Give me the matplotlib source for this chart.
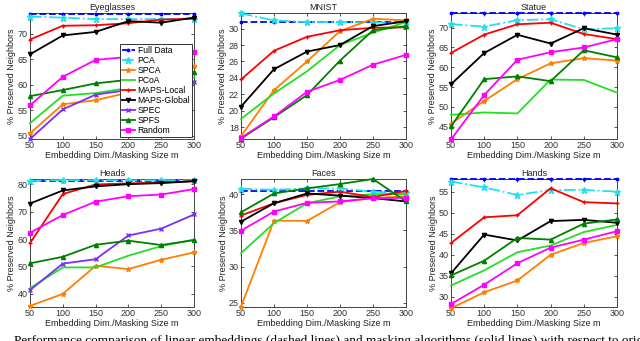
import matplotlib
matplotlib.use("Agg")
import matplotlib.pyplot as plt

x_dims = [50, 100, 150, 200, 250, 300]
methods = ["Full Data", "PCA", "SPCA", "PCoA", "MAPS-Local", "MAPS-Global", "SPEC", "SPFS", "Random"]

eyeglasses = {
    "Full Data":   [74.0, 74.0, 74.0, 74.0, 74.0, 74.0],
    "PCA":         [73.4, 73.2, 72.9, 72.9, 72.9, 73.0],
    "SPCA":        [50.5, 56.2, 57.0, 58.5, 61.0, 63.7],
    "PCoA":        [52.5, 57.9, 58.4, 59.4, 60.5, 61.5],
    "MAPS-Local":  [68.9, 71.6, 71.7, 72.1, 72.8, 73.0],
    "MAPS-Global": [66.0, 69.7, 70.4, 72.5, 72.2, 73.2],
    "SPEC":        [49.4, 55.2, 58.1, 59.0, 59.8, 60.5],
    "SPFS":        [57.8, 59.0, 60.3, 61.0, 61.8, 62.5],
    "Random":      [56.0, 61.6, 64.9, 65.5, 66.3, 66.5],
}
mnist = {
    "Full Data":   [30.75, 30.75, 30.75, 30.75, 30.75, 30.75],
    "PCA":         [31.85, 31.0, 30.8, 30.8, 30.75, 30.75],
    "SPCA":        [16.9, 22.5, 26.0, 29.7, 31.2, 31.0],
    "PCoA":        [19.0, 22.1, 24.8, 28.0, 29.5, 30.8],
    "MAPS-Local":  [23.8, 27.3, 29.0, 29.8, 30.1, 30.15],
    "MAPS-Global": [20.5, 25.05, 27.2, 28.0, 30.3, 30.9],
    "SPFS":        [16.6, 19.2, 21.9, 26.1, 29.8, 30.3],
    "Random":      [16.7, 19.3, 22.3, 23.75, 25.6, 26.8],
}
statue = {
    "Full Data":   [73.6, 73.6, 73.6, 73.6, 73.6, 73.6],
    "PCA":         [70.9, 70.25, 71.9, 72.1, 69.6, 69.85],
    "SPCA":        [45.8, 51.5, 57.0, 61.0, 62.3, 61.7],
    "PCoA":        [48.0, 48.6, 48.35, 56.9, 56.8, 53.6],
    "MAPS-Local":  [63.6, 68.25, 70.85, 71.25, 68.4, 67.1],
    "MAPS-Global": [55.7, 63.6, 68.2, 66.0, 69.85, 68.25],
    "SPFS":        [45.1, 57.0, 57.7, 56.5, 64.3, 62.5],
    "Random":      [41.8, 53.0, 61.9, 63.8, 65.0, 67.1],
}
heads = {
    "Full Data":   [81.3, 81.3, 81.3, 81.3, 81.3, 81.3],
    "PCA":         [81.3, 81.6, 81.5, 81.5, 81.5, 81.5],
    "SPCA":        [35.5, 39.9, 50.2, 49.0, 52.4, 55.1],
    "PCoA":        [42.0, 49.6, 49.6, 53.9, 57.4, 59.8],
    "MAPS-Local":  [58.5, 76.5, 80.0, 80.4, 80.7, 81.2],
    "MAPS-Global": [73.0, 77.8, 79.3, 80.1, 80.5, 81.2],
    "SPEC":        [41.3, 51.0, 52.6, 61.3, 63.8, 69.0],
    "SPFS":        [51.1, 53.5, 57.9, 59.4, 57.8, 59.6],
    "Random":      [62.3, 68.8, 73.7, 75.7, 76.3, 78.3],
}
faces = {
    "Full Data":   [40.4, 40.4, 40.4, 40.4, 40.4, 40.4],
    "PCA":         [40.75, 40.6, 40.8, 40.8, 40.35, 40.1],
    "SPCA":        [24.45, 36.35, 36.3, 38.9, 39.45, 39.7],
    "PCoA":        [31.85, 36.0, 38.75, 39.7, 40.0, 40.0],
    "MAPS-Local":  [37.05, 38.75, 39.9, 40.35, 39.6, 40.45],
    "MAPS-Global": [36.2, 38.75, 40.1, 39.8, 39.45, 39.0],
    "SPFS":        [37.5, 40.1, 40.8, 41.4, 42.1, 39.0],
    "Random":      [34.95, 37.6, 38.8, 39.0, 39.45, 39.5],
}
hands = {
    "Full Data":   [57.9, 57.9, 57.9, 57.9, 57.9, 57.9],
    "PCA":         [57.4, 56.0, 54.2, 55.4, 55.4, 55.0],
    "SPCA":        [27.3, 31.1, 33.9, 40.0, 42.8, 44.4],
    "PCoA":        [32.7, 36.3, 40.6, 42.2, 45.4, 47.1],
    "MAPS-Local":  [42.8, 48.9, 49.4, 55.8, 52.5, 52.2],
    "MAPS-Global": [35.6, 44.8, 43.4, 48.0, 48.3, 47.6],
    "SPFS":        [35.1, 38.6, 44.0, 43.6, 47.4, 48.4],
    "Random":      [28.3, 32.9, 38.0, 41.7, 43.6, 45.6],
}

titles = ["Eyeglasses", "MNIST", "Statue", "Heads", "Faces", "Hands"]
datasets = [eyeglasses, mnist, statue, heads, faces, hands]
yticks = [[50, 55, 60, 65, 70], [18, 20, 22, 24, 26, 28, 30], [45, 50, 55, 60, 65, 70],
          [40, 50, 60, 70, 80], [25, 30, 35, 40], [30, 35, 40, 45, 50, 55]]
ylims = [(49.4, 74.1), (16.55, 31.9), (41.9, 73.7), (35.1, 82.0), (24.4, 42.1), (27.6, 58.0)]

styles = {
    "Full Data":   dict(color="#0000ff", ls="--", marker=".", ms=3.5),
    "PCA":         dict(color="#22e0f0", ls="-.", marker="*", ms=4.5),
    "SPCA":        dict(color="#ff7f00", ls="-", marker="*", ms=3.5),
    "PCoA":        dict(color="#22e022", ls="-", marker=None, ms=0),
    "MAPS-Local":  dict(color="#ff0000", ls="-", marker="+", ms=3),
    "MAPS-Global": dict(color="#000000", ls="-", marker="v", ms=3),
    "SPEC":        dict(color="#7a2eff", ls="-", marker="x", ms=3),
    "SPFS":        dict(color="#008000", ls="-", marker="^", ms=3),
    "Random":      dict(color="#ff00ff", ls="-", marker="s", ms=2.5),
}

plt.rcParams["font.family"] = ["Liberation Sans", "DejaVu Sans"]
W, H = 640, 341
fig = plt.figure(figsize=(W / 100, H / 100), dpi=100)

cols = [(30, 194), (241, 406), (451, 617)]
rows = [(13, 139), (179, 307)]

for i, (title, data) in enumerate(zip(titles, datasets)):
    r, c = divmod(i, 3)
    l, rr = cols[c]
    t, b = rows[r]
    ax = fig.add_axes([l / W, 1 - b / H, (rr - l) / W, (b - t) / H])
    for m in methods:
        if m not in data:
            continue
        st = styles[m]
        ax.plot(x_dims, data[m], color=st["color"], ls=st["ls"], marker=st["marker"],
                ms=st["ms"], lw=1.3, mew=1.0, label=m, clip_on=False, zorder=3)
    ax.set_xlim(50, 300)
    ax.set_ylim(*ylims[i])
    ax.set_xticks(x_dims)
    ax.set_yticks(yticks[i])
    ax.tick_params(direction="in", top=True, right=True, length=2.5, width=0.6,
                   labelsize=6.5, pad=1.5, colors="#333333")
    for s in ax.spines.values():
        s.set_linewidth(0.7)
        s.set_color("#444444")
    ax.set_title(title, fontsize=6.5, pad=2.5, color="#222222")
    ax.set_xlabel("Embedding Dim./Masking Size m", fontsize=6.5, labelpad=0.5, color="#222222")
    ax.set_ylabel("% Preserved Neighbors", fontsize=6.5, labelpad=1, color="#222222")
    if i == 0:
        leg = ax.legend(loc="lower right", fontsize=6.2, labelspacing=0.12, handlelength=1.5,
                        handletextpad=0.3, borderpad=0.25, borderaxespad=0.2,
                        fancybox=False, framealpha=1, edgecolor="#333333")
        leg.get_frame().set_linewidth(0.7)
        leg.set_zorder(5)

fig.text(-0.01, 1 - 335 / H,
         "5.   Performance comparison of linear embeddings (dashed lines) and masking algorithms (solid lines) with respect to original full-length data",
         family=["Liberation Serif", "DejaVu Serif"], fontsize=9.5, va="top", ha="left")

fig.savefig("out.png", dpi=100)
